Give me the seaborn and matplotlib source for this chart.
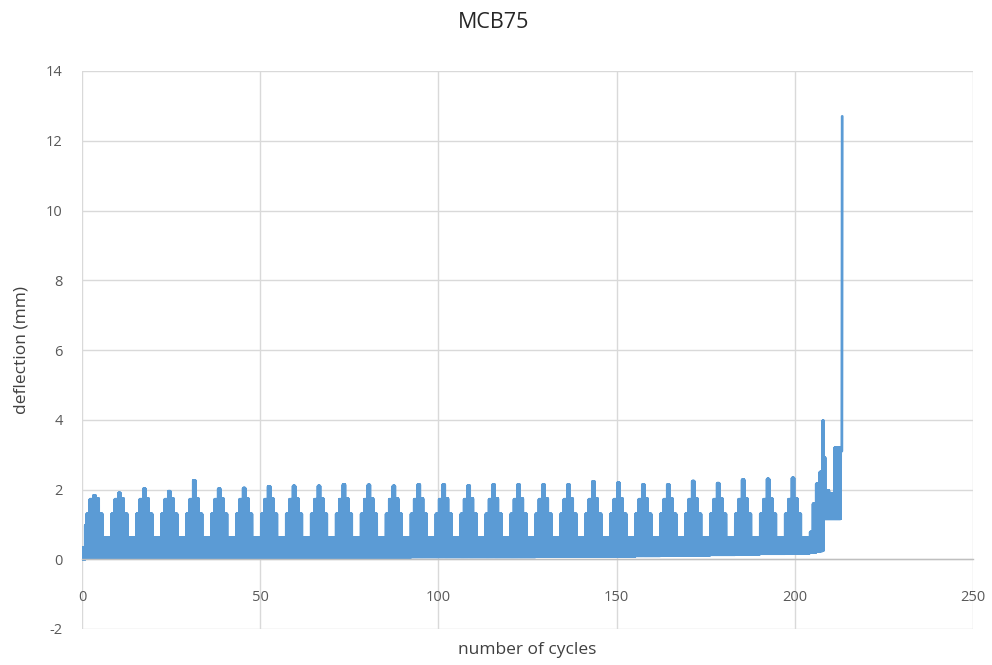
import numpy as np
import pandas as pd
import matplotlib
matplotlib.use("Agg")
import matplotlib.pyplot as plt
import seaborn as sns

# ---- data ----
title = "MCB75"
x_label = "number of cycles"
y_label = "deflection (mm)"
x_ticks = [0, 50, 100, 150, 200, 250]
y_ticks = [-2, 0, 2, 4, 6, 8, 10, 12, 14]

# loading blocks: each block of 7 cycles has stepped amplitude levels
block_period = 7.0
first_block_start = 1.3
block_peaks = [1.83, 1.90, 2.02, 1.95, 2.26, 2.02, 2.04, 2.09, 2.10, 2.10,
               2.14, 2.13, 2.10, 2.14, 2.14, 2.11, 2.14, 2.14, 2.14, 2.14,
               2.23, 2.19, 2.14, 2.14, 2.24, 2.18, 2.28, 2.30, 2.33]
block_troughs = [0.04, 0.04, 0.05, 0.05, 0.05, 0.05, 0.05, 0.05, 0.06, 0.06,
                 0.06, 0.06, 0.06, 0.07, 0.07, 0.07, 0.07, 0.07, 0.08, 0.08,
                 0.09, 0.09, 0.10, 0.11, 0.12, 0.13, 0.15, 0.16, 0.18]
# step widths (cycles) and levels within a block: shoulder, upper, peak, upper, shoulder, rest
step_widths = [0.9, 1.0, 0.6, 0.9, 1.0, 2.6]
step_levels = [1.30, 1.72, None, 1.74, 1.30, 0.62]

# start-up segment and failure segment: (start, end, max, min)
start_segments = [(0.0, 0.9, 0.33, 0.0), (0.9, 1.3, 0.97, 0.03)]
tail_segments = [(204.3, 205.1, 0.78, 0.20), (205.1, 206.0, 1.59, 0.20),
                 (206.0, 207.0, 2.16, 0.22), (207.0, 207.8, 2.50, 0.24),
                 (207.8, 208.1, 3.97, 0.25), (208.1, 208.5, 2.92, 1.16),
                 (208.5, 209.6, 1.97, 1.16), (209.6, 211.2, 1.88, 1.16),
                 (211.2, 212.9, 3.20, 1.16)]
final_x = [212.9, 213.2, 213.3]
final_y = [3.10, 3.10, 12.70]

# ---- build the dense oscillating record ----
segments = list(start_segments)
for k, (pk, tr) in enumerate(zip(block_peaks, block_troughs)):
    s = first_block_start + block_period * k
    for w, lv in zip(step_widths, step_levels):
        segments.append((s, s + w, pk if lv is None else lv, tr))
        s += w
segments += tail_segments

osc_per_cycle = 14
xs, ys = [], []
for s, e, hi, lo in segments:
    n = max(2, int(round((e - s) * osc_per_cycle)))
    xx = np.linspace(s, e, 2 * n, endpoint=False)
    yy = np.tile([lo, hi], n)
    xs.extend(xx)
    ys.extend(yy)
xs.extend(final_x)
ys.extend(final_y)
df = pd.DataFrame({"cycles": xs, "deflection": ys})

# ---- plot ----
sns.set_theme(style="white")
plt.rcParams["font.family"] = ["Open Sans", "DejaVu Sans"]

fig = plt.figure(figsize=(9.92, 6.65), dpi=100)
ax = fig.add_axes([82 / 992, 1 - 629 / 665, (973 - 82) / 992, (629 - 71) / 665])

sns.lineplot(data=df, x="cycles", y="deflection", sort=False, estimator=None,
             color="#5B9BD5", linewidth=2.0, ax=ax)

ax.set_xlim(0, 250)
ax.set_ylim(-2, 14)
ax.set_xticks(x_ticks)
ax.set_yticks(y_ticks)
ax.set_xticklabels([str(t) for t in x_ticks])
ax.set_yticklabels([str(t) for t in y_ticks])
ax.grid(True, color="#D9D9D9", linewidth=1.0)
ax.set_axisbelow(True)
for side in ["top", "right", "left"]:
    ax.spines[side].set_visible(False)
ax.spines["bottom"].set_position(("data", 0))
ax.spines["bottom"].set_color("#BFBFBF")
ax.spines["bottom"].set_linewidth(1.0)
ax.tick_params(axis="x", length=0, pad=22, labelsize=10.5, labelcolor="#595959")
ax.tick_params(axis="y", length=0, pad=14, labelsize=10.5, labelcolor="#595959")

ax.set_xlabel("")
ax.set_ylabel("")
fig.text(527 / 992, 1 - 650 / 665, x_label, ha="center", va="center",
         fontsize=12.5, color="#404040")
fig.text(22 / 992, 1 - 350 / 665, y_label, ha="center", va="center",
         rotation=90, fontsize=12.5, color="#404040")
fig.text(494 / 992, 1 - 22 / 665, title, ha="center", va="center",
         fontsize=15.5, color="#262626")

fig.savefig("out.png", dpi=100)
